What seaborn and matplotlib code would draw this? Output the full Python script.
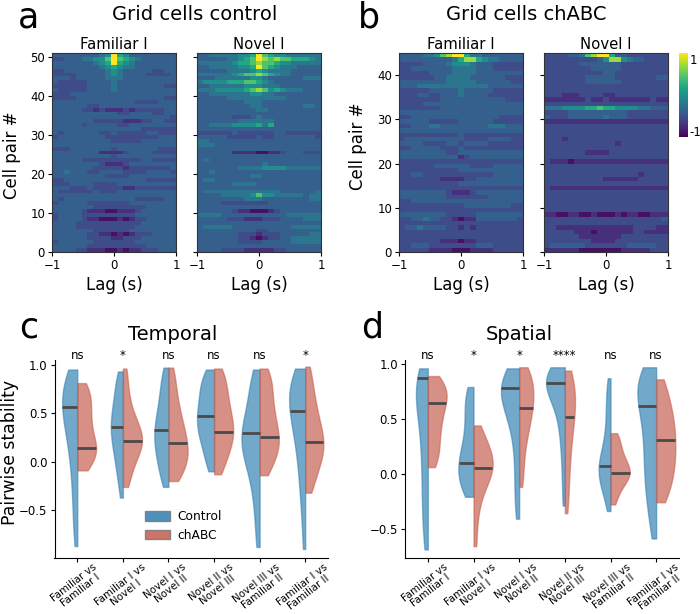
import numpy as np
import pandas as pd
import matplotlib
matplotlib.use("Agg")
import matplotlib.pyplot as plt
from matplotlib.patches import Patch
import seaborn as sns

# heat levels 0-9 (top row first), 10 lag bins + lag 0 + 10 lag bins
ctrl_familiar = """
3333333345 9 6533333333
2233344557 9 7654333333
3333333456 9 6543333333
3333333345 6 5443333333
2233333334 5 4333332233
2222333334 5 4333322223
3332333334 4 4333333333
3222223333 4 3333333333
2222223333 4 3333333322
3222223333 4 3333333333
2223333333 3 3333333333
2222333333 3 3333333322
3333333333 3 3332222333
3333332233 3 3333333333
3333322121 1 1212222233
3333333333 3 2233332233
3333333333 3 3333333332
3333333222 2 2111223322
3333323333 3 2233333333
3333333333 3 3333222222
3233333322 3 2222233222
2333333332 2 2222222333
3333333333 2 2222333333
3333333333 3 3333333333
2223333333 2 3333333222
3333333311 1 1233332222
3333333333 2 3333333333
3333322222 2 2222332222
3333333321 1 1233333333
3333333222 2 2122222223
3343332233 3 3222233332
3333333332 2 2233333333
2233333333 3 3333322222
2223333222 2 3333333333
3332223222 2 2112222222
3222222322 2 3333333333
3333333333 3 3333333333
3233333333 3 3332222233
2333332222 2 2233333333
3333333222 2 2222233333
3333321110 0 1112333333
2333322222 2 2223333333
2333321100 0 1012233333
3333222222 2 2222333333
3333222222 2 2223333333
3333333222 2 2233333333
3333332211 0 1012223333
3333332222 1 1222333333
2333333222 2 2223333333
3333332222 2 2222233333
3333221110 0 1011222333
"""
ctrl_novel = """
3344444556 9 7655444444
3333344567 9 8787766654
4444445667 8 7765544444
3344444556 9 7654443333
3333344445 6 5444433333
4444445677 8 7654433333
3334444445 5 4333333444
4555566677 6 5433333333
3344444455 5 4443333333
4445555567 8 7565444333
3344444445 5 4433333333
3333344444 4 4444333333
3333333344 4 3333333333
3333333334 4 3333333443
3333333333 4 4333333333
3333333333 3 3333333333
3333332223 4 3333333333
3333333444 4 4433333333
3344445555 6 4633333333
3333333333 3 3333333333
2222223222 2 2233222222
3333322222 3 2233333332
4433333333 3 3333333333
4443333333 3 3333333333
3333333333 3 3333333333
3333331111 0 0112333222
3333333333 3 3333333333
3433333333 3 3333333333
3333333333 3 4333333333
3333333444 4 5555444444
3343333333 3 3333333333
3333333334 4 3333333333
3443333333 3 3333333333
3333334444 3 3333333333
3333333333 3 3333333333
3444444444 4 4443333334
3333444445 7 5544444344
3333333344 4 3333333344
3333222222 2 2333333333
3333333333 3 3333333333
3333332110 0 0123333333
4444333333 3 3333444444
3333322211 1 2223333444
3333333333 3 3333333333
3444443333 3 3333344444
3333333333 2 2333333333
3333333222 1 2223333344
3333333221 0 1223344444
3333333222 2 3333344444
3333333333 3 3333333333
3333222211 1 1122333333
"""
chabc_familiar = """
3333445789 9 6443333333
3333333334 6 8865443333
2222333345 5 5433322222
2233333334 4 4433322222
2222233334 4 4433333333
2222223344 4 4333333222
3333333344 4 4433333322
3334444444 4 4444333333
2222233333 4 3333322222
2223322333 4 3333222222
2222222333 3 3333333222
2222333333 3 3333333333
2222222333 3 3333333333
3333333333 3 3333333333
2233333333 3 3333332222
3333322222 3 3333322222
2233344333 3 3333444333
3333333333 3 3333333333
2222222222 3 2222222222
2333333333 3 2222333322
3333222233 2 3333222222
2233333222 3 2222222222
3333333322 3 3333333333
3333333333 1 2333333333
2222222222 2 2222222222
2222223333 3 3222233333
2222222222 3 3333333333
2233222222 2 2222233333
2222222111 1 2233333333
2222222222 3 3333333333
2222222222 2 2222222222
3333333321 1 1233333333
3333333322 2 2222333333
2233333333 3 3333333333
2222222222 2 3333333322
2222222222 2 2222222222
3333333322 2 2233333333
2233433221 0 1133333332
2222222222 2 2222222222
2334333322 1 2122222222
2222222222 2 2222222222
2222222222 2 2222222222
2222222111 0 1122222222
2233322222 2 2233322222
2222211110 0 0111122222
"""
chabc_novel = """
2222334789 9 6332222222
2222222223 5 8854332222
2222223333 3 3322222222
2222222233 3 3322222222
2222222222 3 3222222222
2222222333 3 3222222233
2222222333 3 3322222222
2222222222 2 2222222222
2222222222 2 2222222222
2221112222 1 1222222222
1111111211 2 1111111211
2222222222 2 2222222222
4445555667 6 6555544333
2222333333 3 3332222222
3222333333 4 3332222222
1111111111 1 1111111111
2222222222 2 2222222222
2222222222 2 2222222222
2222222222 2 2222222222
2221222222 2 2222222222
2222222222 2 2122222222
2222222222 2 2222222222
2222222111 1 2222222222
2222222222 2 2222222222
2111011111 1 1111111111
2222222222 2 2222222222
2222222222 2 2222222222
2222222222 2 2222212222
2222222222 1 1111122222
2222222222 2 2222222222
2111111111 1 1111111111
2222222222 2 2222222222
2222222222 2 2222222222
2222222222 2 2222222222
2222222222 2 2222222222
2222222222 2 2222222222
1100110010 0 0101100111
2222222222 2 2222222223
2222222222 2 2222222222
2211111111 1 1111222211
2222211101 1 1111221111
2222221111 1 1122222222
2222222211 1 1222222222
2333333222 2 2223333322
1111110000 0 0011111222
"""
# colour position (0-1 along the colour bar) of each digit above
level_position = [0.04, 0.14, 0.23, 0.3, 0.39, 0.49, 0.6, 0.72, 0.85, 1.0]

comparisons = ["Familiar vs\nFamiliar I", "Familiar I vs\nNovel I", "Novel I vs\nNovel II",
               "Novel II vs\nNovel III", "Novel III vs\nFamiliar II", "Familiar I vs\nFamiliar II"]
groups = ["Control", "chABC"]
temporal_sig = ["ns", "*", "ns", "ns", "ns", "*"]
spatial_sig = ["ns", "*", "*", "****", "ns", "ns"]

temporal_control = [
    [-.87,-.7,-.55,-.4,-.27,-.15,-.05,.05,.13,.2,.27,.33,.38,.43,.47,.51,.55,.59,.63,.67,.71,.75,.79,.83,.87,.91,.95],
    [-.37,-.22,-.12,-.04,.03,.09,.15,.2,.25,.29,.33,.37,.41,.45,.5,.55,.6,.66,.73,.8,.87,.93],
    [-.26,-.18,-.1,-.03,.03,.08,.13,.18,.23,.27,.31,.35,.4,.45,.51,.57,.64,.71,.8,.89,.97],
    [-.1,-.01,.07,.14,.2,.25,.3,.34,.38,.42,.46,.5,.54,.59,.64,.69,.74,.79,.84,.9,.95],
    [-.88,-.65,-.45,-.3,-.18,-.08,0,.06,.11,.16,.2,.24,.28,.33,.38,.44,.51,.59,.68,.78,.87,.95],
    [-.9,-.6,-.4,-.25,-.12,0,.1,.19,.27,.34,.4,.46,.51,.56,.61,.65,.7,.74,.78,.83,.88,.92,.96],
]
temporal_chabc = [
    [-.09,-.05,-.01,.03,.07,.1,.13,.16,.19,.23,.27,.32,.37,.42,.47,.52,.57,.62,.67,.72,.77,.81],
    [-.26,-.17,-.08,-.01,.05,.09,.13,.16,.19,.22,.25,.28,.31,.35,.39,.44,.5,.58,.68,.82,.96],
    [-.2,-.14,-.09,-.05,-.01,.03,.07,.11,.15,.19,.23,.27,.32,.37,.43,.49,.56,.64,.74,.85,.97],
    [-.13,-.05,.03,.09,.14,.19,.23,.27,.31,.35,.39,.43,.48,.53,.58,.64,.7,.76,.83,.9,.96],
    [-.14,-.07,0,.06,.1,.14,.18,.22,.26,.3,.35,.4,.45,.51,.57,.63,.7,.77,.84,.9,.96],
    [-.32,-.22,-.14,-.07,-.01,.04,.08,.12,.16,.2,.24,.28,.33,.38,.44,.5,.57,.65,.74,.85,.98],
]
spatial_control = [
    [-.69,-.55,-.42,-.3,-.18,-.06,.05,.16,.27,.37,.46,.54,.61,.67,.72,.76,.8,.84,.88,.92,.96],
    [-.21,-.16,-.11,-.07,-.03,.01,.05,.09,.13,.17,.22,.28,.35,.43,.51,.59,.66,.73,.79],
    [-.41,-.25,-.1,.05,.2,.33,.43,.5,.56,.61,.65,.69,.72,.75,.78,.81,.84,.87,.9,.93,.96],
    [-.29,-.05,.15,.3,.42,.52,.6,.66,.71,.75,.78,.81,.83,.85,.87,.89,.91,.93,.95,.97],
    [-.34,-.22,-.15,-.1,-.06,-.03,0,.03,.06,.09,.12,.16,.21,.28,.36,.46,.56,.66,.76,.87],
    [-.59,-.42,-.3,-.2,-.11,-.03,.05,.13,.21,.29,.37,.45,.52,.59,.65,.7,.74,.78,.82,.86,.9,.94,.97],
]
spatial_chabc = [
    [.06,.12,.18,.24,.3,.36,.42,.47,.52,.57,.61,.65,.69,.72,.75,.78,.81,.85,.89],
    [-.66,-.45,-.3,-.2,-.13,-.08,-.04,0,.03,.06,.09,.12,.15,.18,.22,.26,.31,.37,.44],
    [-.12,.03,.16,.27,.35,.42,.47,.52,.57,.61,.65,.69,.73,.77,.81,.85,.89,.93,.97],
    [-.36,-.2,-.06,.06,.17,.27,.35,.42,.48,.54,.59,.64,.69,.74,.79,.84,.89,.94],
    [-.28,-.2,-.14,-.1,-.07,-.04,-.02,0,.02,.04,.06,.09,.12,.15,.19,.23,.28,.33,.37],
    [-.26,-.19,-.12,-.06,0,.05,.1,.15,.2,.25,.3,.35,.4,.45,.5,.56,.62,.69,.77,.86],
]
temporal_median_control = [.56, .36, .33, .47, .30, .52]
temporal_median_chabc = [.145, .21, .19, .31, .25, .20]
spatial_median_control = [.87, .10, .78, .83, .07, .62]
spatial_median_chabc = [.64, .05, .60, .52, .01, .31]
# widest part of each half violin relative to the widest in the panel
temporal_width_control = [0.79, 0.63, 0.74, 0.89, 0.95, 0.84]
temporal_width_chabc = [0.98, 1.0, 1.0, 1.0, 1.0, 0.95]
spatial_width_control = [0.62, 0.79, 0.95, 0.98, 0.62, 0.98]
spatial_width_chabc = [0.98, 1.0, 0.74, 0.53, 1.0, 1.0]

BLUE = "#2f7fb0"
RED = "#c45c4c"
W, H = 700, 614


def add_ax(fig, x0, y0, x1, y1):
    return fig.add_axes([x0 / W, 1 - y1 / H, (x1 - x0) / W, (y1 - y0) / H])


def label(fig, x, y, s, **kw):
    kw.setdefault("ha", "center")
    kw.setdefault("va", "center")
    fig.text(x / W, 1 - y / H, s, **kw)


def parse_levels(block):
    rows = [line.replace(" ", "") for line in block.strip().splitlines()]
    return np.array([[-1 + 2 * level_position[int(c)] for c in r] for r in rows])


def plot_heat(ax, block, title, show_y, cax=None):
    mat = parse_levels(block)
    sns.heatmap(mat, ax=ax, cmap="viridis", vmin=-1, vmax=1, cbar=cax is not None, cbar_ax=cax,
                xticklabels=False, yticklabels=False)
    nrow, ncol = mat.shape
    for sp in ax.spines.values():
        sp.set_visible(True)
        sp.set_color("#333333")
        sp.set_linewidth(0.8)
    ax.set_xticks([0, ncol / 2, ncol])
    ax.set_xticklabels(["\u22121", "0", "1"], fontsize=8.5)
    ticks = [t for t in range(0, nrow, 10)]
    ax.set_yticks([nrow - t for t in ticks])
    ax.set_yticklabels([str(t) for t in ticks] if show_y else [], fontsize=8.5, rotation=0)
    ax.tick_params(length=3, width=0.8, pad=2)
    ax.set_title(title, fontsize=10.7, pad=3)
    ax.set_xlabel("Lag (s)", fontsize=12, labelpad=3)


def plot_violins(ax, control, chabc, med_control, med_chabc, width_control, width_chabc, sig, ylim):
    frames = []
    for name, grp in zip(groups, [control, chabc]):
        for comp, vals in zip(comparisons, grp):
            frames.append(pd.DataFrame({"comparison": comp, "group": name, "value": vals}))
    df = pd.concat(frames, ignore_index=True)
    sns.violinplot(data=df, x="comparison", y="value", hue="group", order=comparisons, hue_order=groups,
                   split=True, inner=None, cut=0, bw_adjust=0.8, density_norm="width", width=0.84,
                   palette=[BLUE, RED], saturation=1, linewidth=1, legend=False, ax=ax)

    # median bars run from the centre line to the violin edge
    for coll in list(ax.collections):
        fc = coll.get_facecolor()[0]
        coll.set_edgecolor((fc[0], fc[1], fc[2], 0.55))
        coll.set_facecolor((fc[0], fc[1], fc[2], 0.68))
        path = coll.get_paths()[0]
        verts = path.vertices.copy()
        pos = int(round(np.median(verts[:, 0])))
        left = verts[:, 0].mean() < pos
        scale = (width_control if left else width_chabc)[pos]
        verts[:, 0] = pos + (verts[:, 0] - pos) * scale
        path.vertices = verts
        med = (med_control if left else med_chabc)[pos]
        side = verts[np.abs(verts[:, 0] - pos) > 1e-6]
        side = side[np.argsort(side[:, 1])]
        edge = np.interp(med, side[:, 1], side[:, 0])
        ax.hlines(med, pos, edge, color="#4a4a4a", lw=2, zorder=5)

    ax.set_xlim(-0.5, 5.5)
    ax.set_ylim(*ylim)
    ax.set_yticks([-0.5, 0, 0.5, 1.0])
    ax.set_yticklabels(["\u22120.5", "0.0", "0.5", "1.0"], fontsize=8.5)
    ax.set_xticks(range(6))
    ax.set_xticklabels(comparisons, rotation=38, ha="center", fontsize=7.4, linespacing=1.0)
    ax.tick_params(length=3, width=0.8, pad=2)
    ax.tick_params(axis="x", pad=0)
    ax.set_xlabel("")
    ax.set_ylabel("")
    sns.despine(ax=ax)
    for i, s in enumerate(sig):
        ax.annotate(s, xy=(i, 1), xycoords=("data", "axes fraction"), xytext=(0, 3), textcoords="offset points",
                    ha="center", va="center", fontsize=8.5, annotation_clip=False)


if __name__ == "__main__":
    fig = plt.figure(figsize=(W / 100, H / 100), dpi=100)

    ax_a1 = add_ax(fig, 52, 53, 176, 252)
    ax_a2 = add_ax(fig, 197, 53, 321, 252)
    ax_b1 = add_ax(fig, 399, 53, 523, 252)
    ax_b2 = add_ax(fig, 544, 53, 668, 252)
    cax = add_ax(fig, 679, 53, 688, 137)

    plot_heat(ax_a1, ctrl_familiar, "Familiar I", True)
    plot_heat(ax_a2, ctrl_novel, "Novel I", False)
    plot_heat(ax_b1, chabc_familiar, "Familiar I", True)
    plot_heat(ax_b2, chabc_novel, "Novel I", False, cax=cax)

    cax.set_yticks([-0.857, 0.857])
    cax.set_yticklabels(["-1", "1"], fontsize=8.5)
    cax.tick_params(length=0, pad=1)
    for sp in cax.spines.values():
        sp.set_visible(False)

    ax_c = add_ax(fig, 54.5, 360, 328, 557.7)
    ax_d = add_ax(fig, 405, 360, 679, 557.7)
    plot_violins(ax_c, temporal_control, temporal_chabc, temporal_median_control, temporal_median_chabc,
                 temporal_width_control, temporal_width_chabc, temporal_sig, (-0.99, 1.048))
    plot_violins(ax_d, spatial_control, spatial_chabc, spatial_median_control, spatial_median_chabc,
                 spatial_width_control, spatial_width_chabc, spatial_sig, (-0.765, 1.036))

    handles = [Patch(facecolor=BLUE, edgecolor="#777777", alpha=0.85, label=groups[0]),
               Patch(facecolor=RED, edgecolor="#777777", alpha=0.85, label=groups[1])]
    ax_c.legend(handles=handles, loc="lower left", bbox_to_anchor=(0.29, 0.025), frameon=False,
                fontsize=8.8, handlelength=2.1, handleheight=0.8, labelspacing=0.45, handletextpad=0.6)

    label(fig, 12, 155, "Cell pair #", fontsize=12, rotation=90)
    label(fig, 358, 146, "Cell pair #", fontsize=12, rotation=90)
    label(fig, 10, 452, "Pairwise stability", fontsize=12.4, rotation=90)

    label(fig, 195, 15, "Grid cells control", fontsize=14)
    label(fig, 526, 15, "Grid cells chABC", fontsize=14)
    label(fig, 173, 335, "Temporal", fontsize=14)
    label(fig, 519, 335, "Spatial", fontsize=14)
    label(fig, 29, 27, "a", fontsize=25, va="baseline")
    label(fig, 369, 27, "b", fontsize=25, va="baseline")
    label(fig, 29, 338, "c", fontsize=25, va="baseline")
    label(fig, 372, 338, "d", fontsize=25, va="baseline")

    plt.savefig("out.png", dpi=100)
    plt.close()
